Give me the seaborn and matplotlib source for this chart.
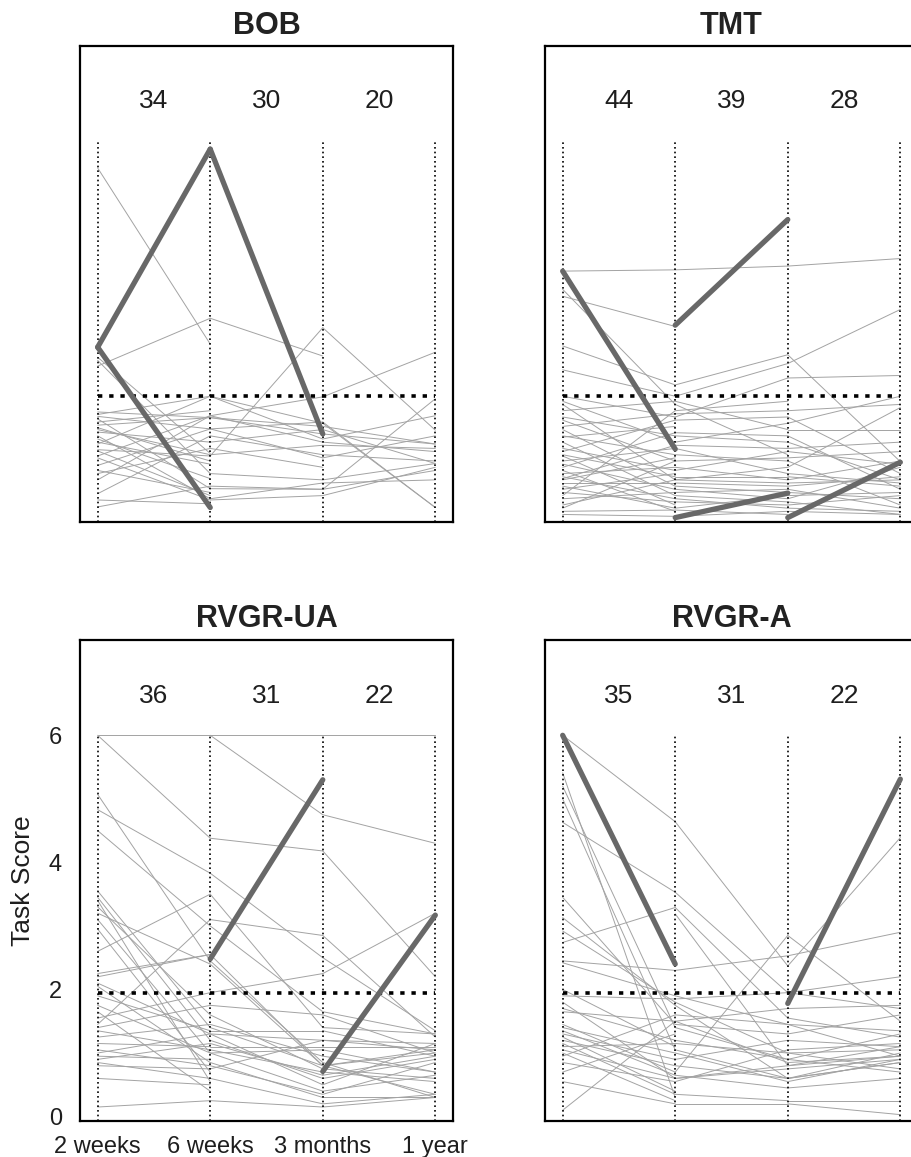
import numpy as np
import pandas as pd
import matplotlib
matplotlib.use("Agg")
import matplotlib.pyplot as plt
import seaborn as sns

sns.set_theme(style="white")
plt.rcParams['font.family'] = ['Liberation Sans', 'DejaVu Sans']

nan = np.nan
times = ["2 weeks", "6 weeks", "3 months", "1 year"]
threshold = 1.94

# ---- BOB ----
bob_n = [34, 30, 20]
bob_w2 = [5.56, 2.41, 2.55, 2.50, 1.68, 1.64, 1.61, 1.57, 1.52, 1.47, 1.43, 1.36, 1.30, 1.17, 1.08, 1.06,
          0.98, 0.91, 0.83, 0.75, 0.70, 0.60, 0.50, 0.38, 0.28, 0.17, 1.25, 1.55, 0.95, 1.40, 0.65, 1.20]
bob_w6 = [2.76, 3.17, 1.02, 0.70, 1.59, 1.93, 1.41, 0.46, 1.70, 1.59, 0.90, 1.20, 0.30, 1.93, 0.98, 0.35,
          1.62, nan, 1.41, 0.40, 1.10, 1.62, nan, 1.30, 0.22, 0.50, 0.62, nan, 0.28, 1.00, nan, 0.85]
bob_m3 = [nan, 2.57, nan, 0.60, 1.45, 1.25, 1.52, 0.45, nan, 1.33, nan, 1.40, 0.55, 1.50, 3.02, nan,
          1.20, nan, 0.95, nan, 0.80, 1.92, nan, 1.00, nan, 0.45, nan, nan, 0.35, 1.15, nan, nan]
bob_y1 = [nan, nan, nan, 0.86, 1.17, 1.62, 0.16, 1.89, nan, 1.17, nan, 0.86, 0.60, 0.16, 1.39, nan,
          1.05, nan, 1.30, nan, nan, 2.63, nan, 0.90, nan, 0.75, nan, nan, 0.80, 1.10, nan, nan]
bob_hl_w2 = [2.71, 2.71]
bob_hl_w6 = [5.86, 0.16]
bob_hl_m3 = [1.33, nan]
bob_hl_y1 = [nan, nan]

# ---- TMT ----
tmt_n = [44, 39, 28]
tmt_w2 = [3.92, 3.63, 3.52, 2.73, 2.35, 1.93, 1.85, 1.80, 1.70, 1.60, 1.55, 1.45, 1.40, 1.30, 1.28, 1.20,
          1.10, 1.05, 0.98, 0.90, 0.85, 0.80, 0.75, 0.70, 0.65, 0.60, 0.55, 0.50, 0.45, 0.40, 0.35, 0.30,
          0.25, 0.20, 0.15, 0.10, 0.05, 1.00, 0.05, 1.50, 0.62, 0.88]
tmt_w6 = [3.94, 1.80, 3.04, 2.11, 1.93, 1.60, 1.20, 0.60, 1.85, 1.30, 0.90, 1.65, 0.50, 1.00, 1.45, 0.35,
          0.75, 1.55, 0.20, 1.10, 0.45, 1.35, 0.10, 0.80, 0.30, 0.95, 0.55, 0.15, 0.70, 0.25, 1.70, 0.40,
          nan, 0.60, 0.90, 0.12, nan, 0.65, 0.02, nan, 1.15, nan]
tmt_m3 = [4.00, 1.00, nan, 2.59, 2.45, 2.22, 1.50, 0.80, 1.40, 1.20, nan, 1.70, 0.40, 0.90, nan, 0.25,
          1.05, 1.60, nan, 0.70, 0.30, 1.30, nan, 0.60, 0.15, nan, 0.50, 0.35, nan, 0.20, 1.85, 0.45,
          nan, 0.55, 0.95, 0.05, nan, 0.65, 0.10, nan, 1.10, nan]
tmt_y1 = [4.12, nan, nan, 0.89, 3.31, 2.26, 1.93, 1.75, 1.40, 0.60, nan, 1.80, 0.30, 0.20, nan, 0.05,
          0.85, 0.70, nan, 0.55, 0.80, 0.45, nan, 0.90, 0.10, nan, 0.65, 0.40, nan, 0.35, nan, 0.15,
          nan, 0.60, 1.05, nan, nan, 0.50, 0.05, nan, 1.20, nan]
tmt_hl_w2 = [3.92, nan, nan, nan]
tmt_hl_w6 = [1.09, 3.06, 0.00, nan]
tmt_hl_m3 = [nan, 4.74, 0.39, 0.00]
tmt_hl_y1 = [nan, nan, nan, 0.88]

# ---- RVGR-UA ----
ua_n = [36, 31, 22]
ua_w2 = [6.00, 6.00, 5.07, 4.83, 4.50, nan, 3.55, 3.45, 3.30, 3.20, 3.10, 2.95, 2.60, 2.25, 2.20, 2.10,
         2.05, 1.90, 1.75, 1.65, 1.55, 1.45, 1.40, 1.35, 1.15, 1.05, 1.00, 0.95, 0.90, 0.85, 0.80, 0.60,
         0.15, 3.40, 1.25]
ua_w6 = [6.00, 4.38, 2.45, 3.83, 3.00, 6.00, 1.40, 1.20, 1.60, 2.40, 1.00, 0.70, 3.50, 2.55, 2.55, 1.30,
         0.85, 1.35, 1.00, 0.40, 1.95, 3.10, 1.75, 1.05, 1.10, 0.80, 1.30, 0.90, 1.15, 0.60, 0.75, 0.50,
         0.25, 0.55, 1.45]
ua_m3 = [6.00, 4.18, 0.85, 2.50, 1.65, 4.75, 0.80, 0.60, 0.75, 0.80, 0.40, nan, 1.40, nan, 0.80, 0.50,
         0.30, 1.35, 1.05, nan, 2.25, 2.85, 1.60, 0.70, 1.10, 0.35, 1.20, nan, 0.65, 0.20, 1.20, nan,
         0.15, nan, 0.95]
ua_y1 = [6.00, 2.20, 0.30, 1.35, 1.30, 4.30, 1.00, 0.90, 0.60, 1.05, 0.65, nan, 1.30, nan, 0.35, 1.15,
         0.30, 0.95, 0.70, nan, 3.20, 1.25, 1.00, 0.55, 1.10, 0.85, 1.15, nan, 0.95, 0.35, 1.05, nan,
         0.30, nan, 0.70]
ua_hl_w2 = [nan, nan]
ua_hl_w6 = [2.48, nan]
ua_hl_m3 = [5.30, 0.71]
ua_hl_y1 = [nan, 3.17]

# ---- RVGR-A ----
a_n = [35, 31, 22]
a_w2 = [6.00, 5.41, 5.20, 5.00, 4.63, nan, 3.45, 3.13, 2.92, 2.74, 2.45, 2.42, 1.90, 1.80, 1.70, 1.65,
        1.45, 1.40, 1.30, 1.25, 1.20, 1.15, 1.10, 1.05, 1.00, 0.95, 0.85, 0.70, 0.10, 0.55, 1.35, 2.00]
a_w6 = [4.64, 0.30, 1.40, 1.05, 3.53, 3.19, 1.45, 1.75, 1.80, 3.29, 2.30, 1.90, 1.85, 0.60, 1.20, 1.50,
        0.70, 1.00, 0.90, 0.40, 0.80, 0.35, 1.15, 0.60, 0.25, 1.60, 0.55, 1.30, 1.50, 0.20, 0.65, 1.10]
a_m3 = [2.37, nan, 0.90, 0.60, 1.95, 0.80, 1.30, 0.60, 1.00, 1.55, 2.53, 1.45, 1.95, 0.80, 0.90, 1.70,
        2.85, 0.55, 1.20, nan, 0.60, 0.25, 1.00, 0.75, nan, 1.45, 1.05, nan, 0.85, 0.20, 0.45, nan]
a_y1 = [4.39, nan, 1.30, 0.85, 1.70, 0.95, 1.60, 0.85, 1.05, 1.25, 2.90, 0.95, 2.20, 1.10, 0.70, 1.75,
        1.50, 0.90, 1.10, nan, 1.00, 0.25, 0.75, 0.90, nan, 1.35, 1.15, nan, 0.95, 0.03, 0.60, nan]
a_hl_w2 = [6.00, nan]
a_hl_w6 = [2.40, nan]
a_hl_m3 = [nan, 1.78]
a_hl_y1 = [nan, 5.31]


def segments(w2, w6, m3, y1):
    # one unit per segment between two consecutive visits
    vals = np.array([w2, w6, m3, y1], dtype=float).T
    rows = []
    seg = 0
    for subj in vals:
        for k in range(3):
            a, b = subj[k], subj[k + 1]
            if np.isnan(a) or np.isnan(b):
                continue
            rows += [(seg, k, a), (seg, k + 1, b)]
            seg += 1
    return pd.DataFrame(rows, columns=["seg", "t", "score"])


panels = [
    ("BOB", bob_n, (bob_w2, bob_w6, bob_m3, bob_y1), (bob_hl_w2, bob_hl_w6, bob_hl_m3, bob_hl_y1)),
    ("TMT", tmt_n, (tmt_w2, tmt_w6, tmt_m3, tmt_y1), (tmt_hl_w2, tmt_hl_w6, tmt_hl_m3, tmt_hl_y1)),
    ("RVGR-UA", ua_n, (ua_w2, ua_w6, ua_m3, ua_y1), (ua_hl_w2, ua_hl_w6, ua_hl_m3, ua_hl_y1)),
    ("RVGR-A", a_n, (a_w2, a_w6, a_m3, a_y1), (a_hl_w2, a_hl_w6, a_hl_m3, a_hl_y1)),
]

W, H = 912, 1157
fig = plt.figure(figsize=(W / 100, H / 100), dpi=100)
boxes = [(80, 46, 373, 476), (545, 46, 373, 476), (80, 640, 373, 481), (545, 640, 373, 481)]

ylo, yhi = -0.07, 7.5
for (name, counts, thin, hl), (px, py, pw, ph) in zip(panels, boxes):
    ax = fig.add_axes([px / W, 1 - (py + ph) / H, pw / W, ph / H])

    sns.lineplot(data=segments(*thin), x="t", y="score", units="seg", estimator=None,
                 color="#a3a3a3", lw=0.7, ax=ax, legend=False, sort=False, zorder=1)
    ax.vlines(range(len(times)), ylo, 6, colors="black", lw=1.2,
              linestyles=[(0, (1, 1.8))], zorder=2)
    ax.hlines(threshold, 0, len(times) - 1, colors="black", lw=2.6,
              linestyles=[(0, (1.2, 1.9))], zorder=3)
    sns.lineplot(data=segments(*hl), x="t", y="score", units="seg", estimator=None,
                 color="#686868", lw=3.8, ax=ax, legend=False, sort=False, zorder=4,
                 solid_capstyle="round")

    for i, n in enumerate(counts):
        ax.text(i + 0.5, 6.62, str(n), ha="center", va="center", fontsize=19, color="#1e1e1e")

    ax.set_xlim(-0.157, 3.157)
    ax.set_ylim(ylo, yhi)
    ax.set_title(name, fontsize=22, fontweight="bold", color="#222222", pad=9)
    for sp in ax.spines.values():
        sp.set_visible(True)
        sp.set_color("black")
        sp.set_linewidth(1.6)

    if name == "RVGR-UA":
        ax.set_xticks(range(len(times)))
        ax.set_xticklabels(times)
        ax.set_yticks([0, 2, 4, 6])
        ax.tick_params(axis="x", length=0, labelsize=17, pad=11, colors="#1e1e1e")
        ax.tick_params(axis="y", length=0, labelsize=17, pad=13, colors="#1e1e1e")
        ax.set_ylabel("Task Score", fontsize=19, color="#1e1e1e")
        ax.yaxis.set_label_coords(-0.12, 0.5)
        ax.set_xlabel("")
    else:
        ax.set_xticks([])
        ax.set_yticks([])
        ax.set_xlabel("")
        ax.set_ylabel("")

fig.savefig("out.png", dpi=100)
